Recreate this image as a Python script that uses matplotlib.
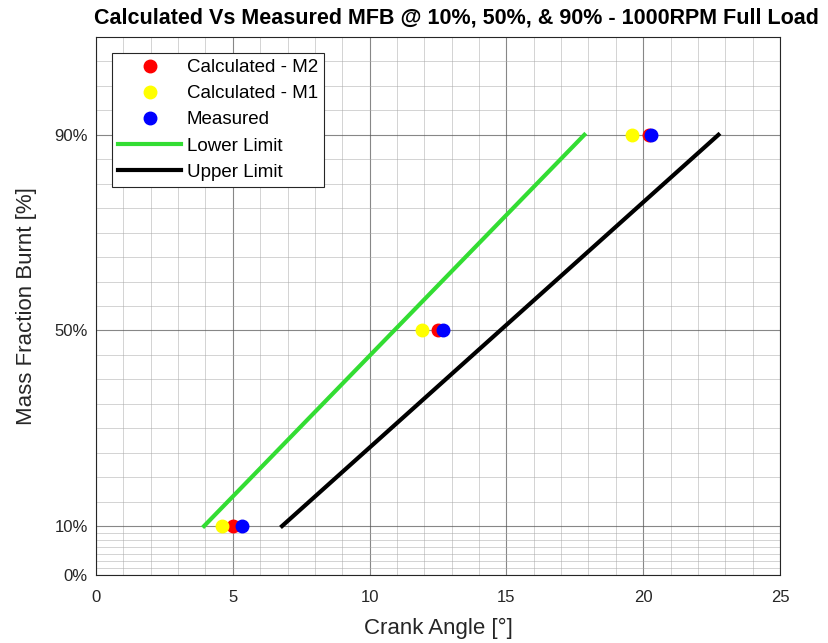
import numpy as np
import matplotlib.pyplot as plt
from matplotlib.ticker import FixedLocator

plt.rcParams['font.family'] = ['Liberation Sans', 'DejaVu Sans']

# data
mfb = [10, 50, 90]
calc_m2 = [5.0, 12.5, 20.2]
calc_m1 = [4.6, 11.9, 19.6]
measured = [5.35, 12.7, 20.3]
lower_x = [3.95, 17.85]
upper_x = [6.8, 22.75]
limit_y = [10, 90]

fig = plt.figure(figsize=(8.29, 6.43), dpi=100)
ax = fig.add_axes([0.1158, 0.1058, 0.8251, 0.8367])

ms = 9
ax.plot(calc_m2, mfb, 'o', color='#ff0000', markersize=ms, label='Calculated - M2', zorder=3)
ax.plot(calc_m1, mfb, 'o', color='#ffff00', markersize=ms, label='Calculated - M1', zorder=3)
ax.plot(measured, mfb, 'o', color='#0000ff', markersize=ms, label='Measured', zorder=3)
ax.plot(lower_x, limit_y, color='#33dd33', lw=3, label='Lower Limit', zorder=2)
ax.plot(upper_x, limit_y, color='black', lw=3, label='Upper Limit', zorder=2)

ax.set_xlim(0, 25)
ax.set_ylim(0, 110)
ax.set_xticks([0, 5, 10, 15, 20, 25])
ax.set_yticks([0, 10, 50, 90])
ax.set_yticklabels(['0%', '10%', '50%', '90%'])
ax.xaxis.set_minor_locator(FixedLocator(np.arange(0, 26, 1)))
ymin = list(np.linspace(0, 10, 8)[1:-1]) + list(np.arange(15, 110, 5))
ax.yaxis.set_minor_locator(FixedLocator(ymin))
ax.grid(which='major', color='#555555', lw=0.8, alpha=0.7)
ax.grid(which='minor', color='#aaaaaa', lw=0.6, alpha=0.6)
ax.set_axisbelow(True)
ax.tick_params(which='both', direction='in', length=0, labelsize=12, colors='#262626')
ax.tick_params(axis='x', pad=11)
ax.tick_params(axis='y', pad=6)
for s in ax.spines.values():
    s.set_color('#262626')
    s.set_linewidth(0.8)

ax.set_xlabel('Crank Angle [°]', fontsize=16, color='#262626', labelpad=9)
ax.set_ylabel('Mass Fraction Burnt [%]', fontsize=16, color='#262626', labelpad=12)
fig.text(0.551, 0.972, 'Calculated Vs Measured MFB @ 10%, 50%, & 90% - 1000RPM Full Load',
         ha='center', va='center', fontsize=15.5, fontweight='bold', color='black')

leg = ax.legend(loc='upper left', bbox_to_anchor=(0.023, 0.970), fontsize=13.5,
                fancybox=False, framealpha=1, edgecolor='#262626',
                handlelength=3.4, handletextpad=0.27, labelspacing=0.48, borderpad=0.32,
                borderaxespad=0)
leg.get_frame().set_linewidth(0.8)

fig.savefig('out.png', dpi=100)
